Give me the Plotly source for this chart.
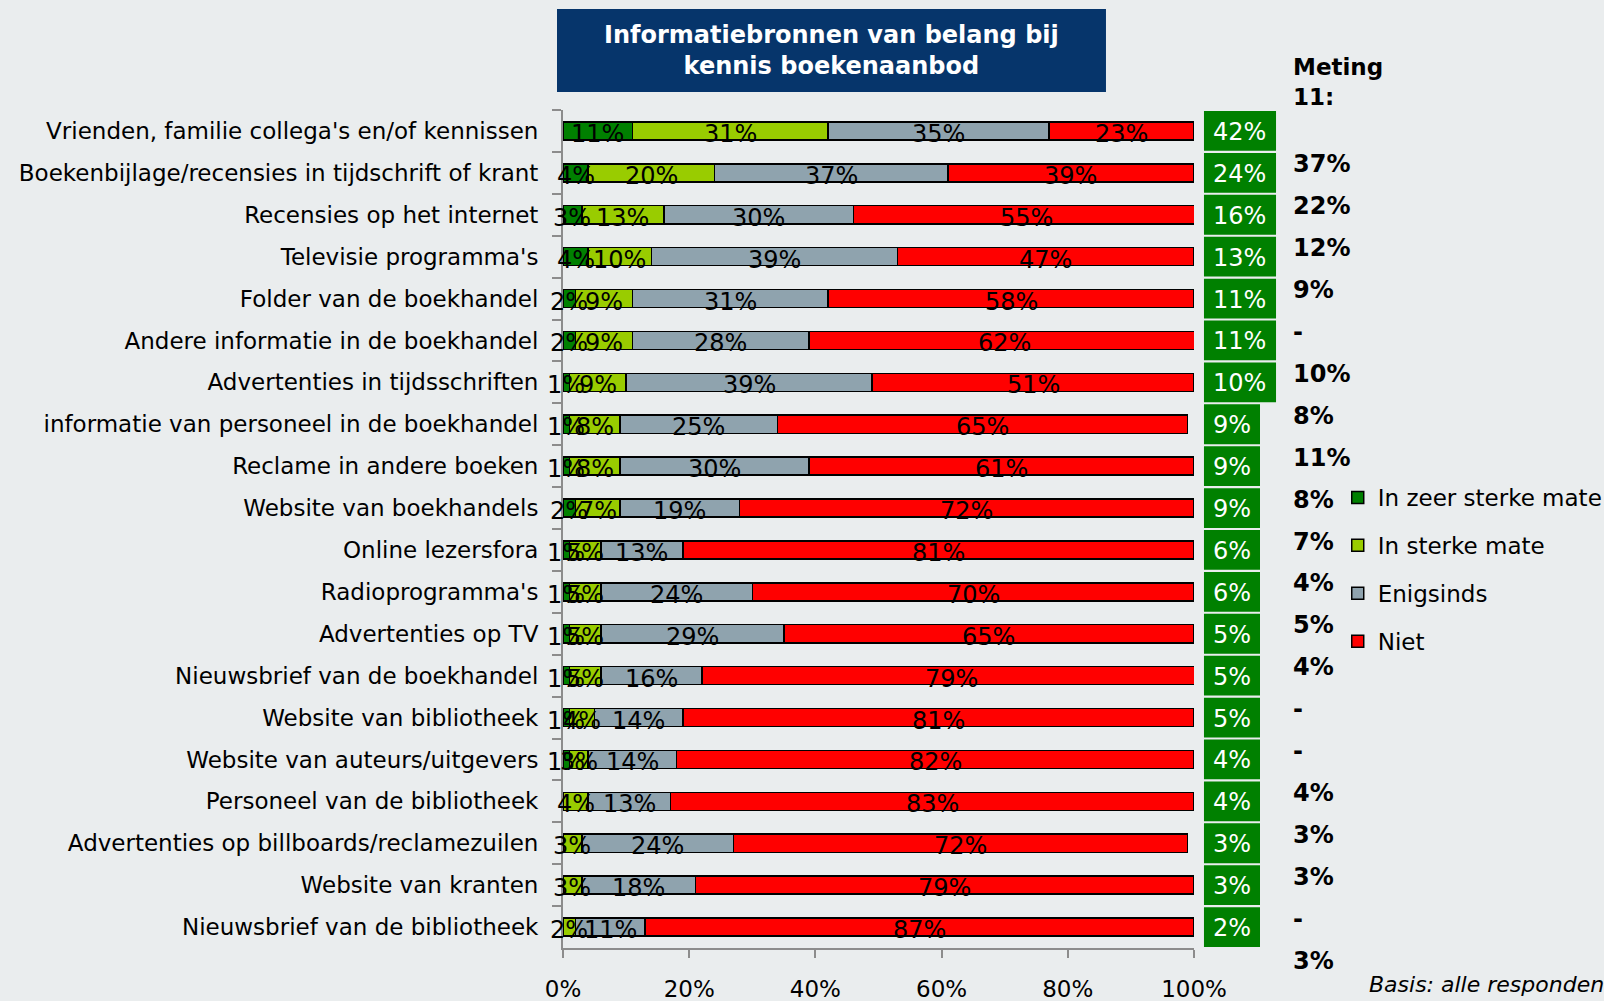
import plotly.graph_objects as go

categories = [
    "Vrienden, familie collega's en/of kennissen",
    "Boekenbijlage/recensies in tijdschrift of krant",
    "Recensies op het internet",
    "Televisie programma's",
    "Folder van de boekhandel",
    "Andere informatie in de boekhandel",
    "Advertenties in tijdsschriften",
    "informatie van personeel in de boekhandel",
    "Reclame in andere boeken",
    "Website van boekhandels",
    "Online lezersfora",
    "Radioprogramma's",
    "Advertenties op TV",
    "Nieuwsbrief van de boekhandel",
    "Website van bibliotheek",
    "Website van auteurs/uitgevers",
    "Personeel van de bibliotheek",
    "Advertenties op billboards/reclamezuilen",
    "Website van kranten",
    "Nieuwsbrief van de bibliotheek",
]

zeer_sterk = [11, 4, 3, 4, 2, 2, 1, 1, 1, 2, 1, 1, 1, 1, 1, 1, 0, 0, 0, 0]
sterk = [31, 20, 13, 10, 9, 9, 9, 8, 8, 7, 5, 5, 5, 5, 4, 3, 4, 3, 3, 2]
enigsinds = [35, 37, 30, 39, 31, 28, 39, 25, 30, 19, 13, 24, 29, 16, 14, 14, 13, 24, 18, 11]
niet = [23, 39, 55, 47, 58, 62, 51, 65, 61, 72, 81, 70, 65, 79, 81, 82, 83, 72, 79, 87]

top2 = [42, 24, 16, 13, 11, 11, 10, 9, 9, 9, 6, 6, 5, 5, 5, 4, 4, 3, 3, 2]
meting11 = ["37%", "22%", "12%", "9%", "-", "10%", "8%", "11%", "8%", "7%",
            "4%", "5%", "4%", "-", "-", "4%", "3%", "3%", "-", "3%"]

x_ticks = [0, 20, 40, 60, 80, 100]
x_ticktext = ["0%", "20%", "40%", "60%", "80%", "100%"]

series = [
    ("In zeer sterke mate", zeer_sterk, "#008000"),
    ("In sterke mate", sterk, "#99CC00"),
    ("Enigsinds", enigsinds, "#8FA3AE"),
    ("Niet", niet, "#FF0000"),
]

FONT = "DejaVu Sans, Verdana, sans-serif"
BG = "#EAEDEE"
n = len(categories)

fig = go.Figure()
for name, vals, col in series:
    fig.add_trace(go.Bar(
        y=categories, x=vals, name=name, orientation="h",
        marker=dict(color=col, line=dict(color="black", width=1.5)),
        legendgroup=name, hoverinfo="x+name",
    ))

# percentage labels in the bar segments
cum = [0] * n
for name, vals, col in series:
    for r, v in enumerate(vals):
        if v > 0:
            fig.add_annotation(x=cum[r] + v / 2, y=r, xref="x", yref="y",
                               xanchor="center", yanchor="middle",
                               text=f"{v}%", showarrow=False, yshift=-3,
                               font=dict(family=FONT, size=24, color="black"))
        cum[r] += v

# green boxes with top-2 score
for r, v in enumerate(top2):
    x1 = 1.13 if r < 7 else 1.1046
    fig.add_shape(type="rect", xref="paper", yref="y", x0=1.0158, x1=x1,
                  y0=r - 0.475, y1=r + 0.475, fillcolor="#008000", line_width=0)
    fig.add_annotation(x=(1.0158 + x1) / 2, y=r, xref="paper", yref="y",
                       xanchor="center", yanchor="middle",
                       text=f"{v}%", showarrow=False, yshift=-1,
                       font=dict(family=FONT, size=24, color="white"))

# previous measurement column
fig.add_annotation(x=1.1537, y=1.0334, xref="paper", yref="paper", xanchor="left",
                   yanchor="middle", align="left", showarrow=False,
                   text="<b>Meting<br>11:</b>",
                   font=dict(family=FONT, size=23, color="black"))
for r, t in enumerate(meting11):
    ypos = 1 - (r + 1 - 0.2 + 0.5) / n
    fig.add_annotation(x=1.1537, y=ypos, xref="paper", yref="paper",
                       xanchor="left", yanchor="middle", showarrow=False,
                       text=f"<b>{t}</b>",
                       font=dict(family=FONT, size=24, color="black"))

# title box
fig.add_shape(type="rect", xref="paper", yref="paper", x0=-0.0095, x1=0.8605,
              y0=1.0215, y1=1.1205, fillcolor="#06356B", line_width=0)
fig.add_annotation(x=0.425, y=1.071, xref="paper", yref="paper", showarrow=False,
                   xanchor="center", yanchor="middle",
                   text="<b>Informatiebronnen van belang bij<br>kennis boekenaanbod</b>",
                   font=dict(family=FONT, size=24, color="white"))

fig.add_annotation(x=1.2737, y=-0.043, xref="paper", yref="paper", xanchor="left",
                   yanchor="middle", showarrow=False,
                   text="<i>Basis: alle respondenten</i>",
                   font=dict(family=FONT, size=22, color="black"))

fig.update_layout(
    width=1604, height=1001,
    margin=dict(l=563, r=410, t=110, b=53, autoexpand=False),
    paper_bgcolor=BG, plot_bgcolor=BG,
    barmode="stack", bargap=0.57,
    showlegend=True,
    legend=dict(x=0.834, y=0.5245, xref="container", yref="container",
                xanchor="left", yanchor="top",
                font=dict(family=FONT, size=23, color="black"),
                bgcolor="rgba(0,0,0,0)", tracegroupgap=15,
                traceorder="grouped"),
    font=dict(family=FONT, color="black"),
)
fig.update_xaxes(range=[0, 100], tickmode="array", tickvals=x_ticks, ticktext=x_ticktext,
                 showgrid=False, zeroline=False, showline=True, linecolor="#8C8C8C",
                 linewidth=2, ticks="outside", ticklen=8, tickcolor="#8C8C8C",
                 tickwidth=2, tickfont=dict(family=FONT, size=23, color="black"),
                 ticklabelstandoff=11, automargin=False)
fig.update_yaxes(type="category", range=[n - 0.5, -0.5], showgrid=False, zeroline=False,
                 showline=True, linecolor="#8C8C8C", linewidth=2, ticks="outside",
                 tickson="boundaries", ticklen=9, tickcolor="#8C8C8C", tickwidth=2,
                 tickfont=dict(family=FONT, size=23, color="black"),
                 ticklabelstandoff=18, automargin=False)

fig.write_html("out.html", config={"displayModeBar": False},
               post_script="document.body.style.margin='0px';")
